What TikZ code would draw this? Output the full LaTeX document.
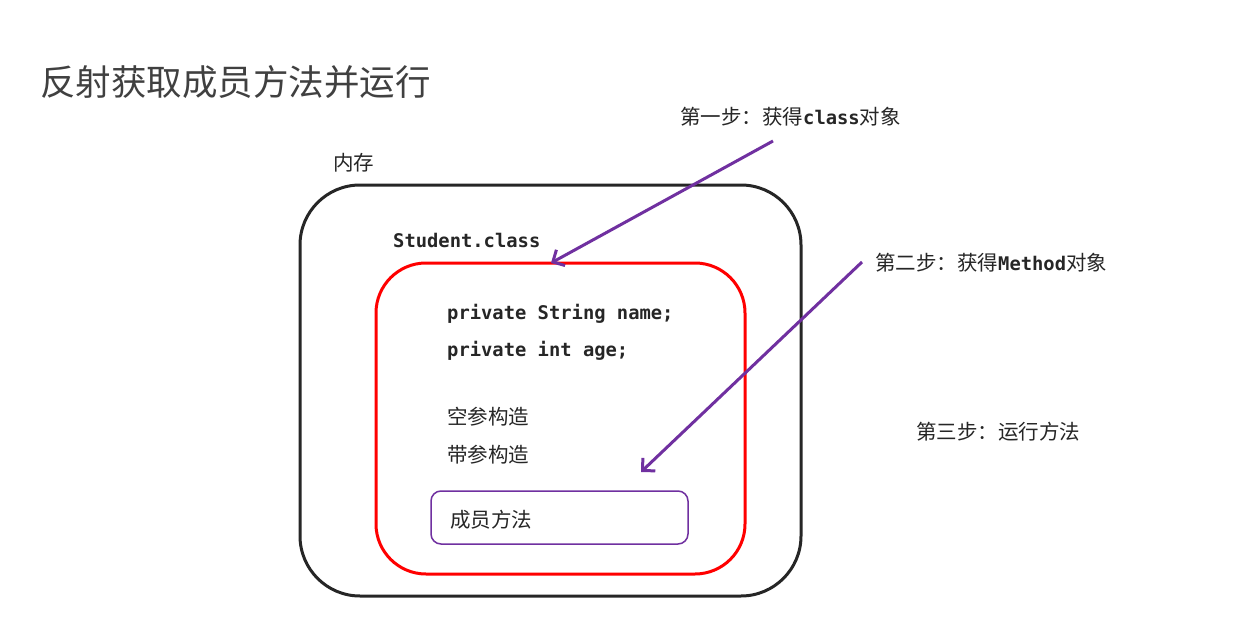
\documentclass[tikz,border=0pt]{standalone}
\usepackage{fontspec}
\newfontfamily\cjk{Noto Sans CJK SC}
\newfontfamily\codefont{DejaVu Sans Mono}
\usetikzlibrary{arrows.meta}
\definecolor{txt}{HTML}{262626}
\definecolor{ttl}{HTML}{404040}
\definecolor{purp}{HTML}{7030A0}
\tikzset{
  lbl/.style={anchor=west, inner sep=0pt, text=txt, font=\cjk\fontsize{20.5}{24}\selectfont},
  code/.style={anchor=west, inner sep=0pt, text=txt, font=\codefont\bfseries\fontsize{18.8}{22}\selectfont},
  box/.style={draw, inner sep=0pt, outer sep=0pt, anchor=north west},
  arr/.style={draw=purp, line width=3pt, -{Straight Barb[length=9pt,width=18pt,line width=3pt]}},
}
\newcommand{\cd}[1]{{\codefont\bfseries\fontsize{18.8}{22}\selectfont #1}}
\begin{document}
\begin{tikzpicture}[x=1pt,y=-1pt]
\useasboundingbox[fill=white] (0,0) rectangle (1243,626);
\node[anchor=west, inner sep=0pt, text=ttl, font=\cjk\fontsize{35.5}{42}\selectfont] (title) at (40,82) {反射获取成员方法并运行};
\node[lbl] (mem) at (333,163) {内存};
\node[box, draw=txt, line width=3pt, rounded corners=60pt, minimum width=501pt, minimum height=411pt] (outer) at (300,185) {};
\node[code] (cls) at (393,240) {Student.class};
\node[box, draw=red, line width=3pt, rounded corners=50pt, minimum width=369pt, minimum height=311pt] (redbox) at (376,263) {};
\node[code] (f1) at (447,314) {private String name;};
\node[code] (f2) at (447,351) {private int age;};
\node[lbl] (c1) at (447,417) {空参构造};
\node[lbl] (c2) at (447,455) {带参构造};
\node[box, draw=purp, line width=1.5pt, rounded corners=10pt, minimum width=257pt, minimum height=53pt] (meth) at (431,491) {};
\node[lbl] (mtxt) at (450,520) {成员方法};
\node[lbl] (s1) at (680,117) {第一步：获得\cd{class}对象};
\node[lbl] (s2) at (875,263) {第二步：获得\cd{Method}对象};
\node[lbl] (s3) at (916,432) {第三步：运行方法};
\coordinate (a1s) at (773,141);
\coordinate (a1e) at (551,263);
\coordinate (a2s) at (862,262);
\coordinate (a2e) at (641,472);
\draw[arr] (a1s) -- (a1e);
\draw[arr] (a2s) -- (a2e);
\end{tikzpicture}
\end{document}
